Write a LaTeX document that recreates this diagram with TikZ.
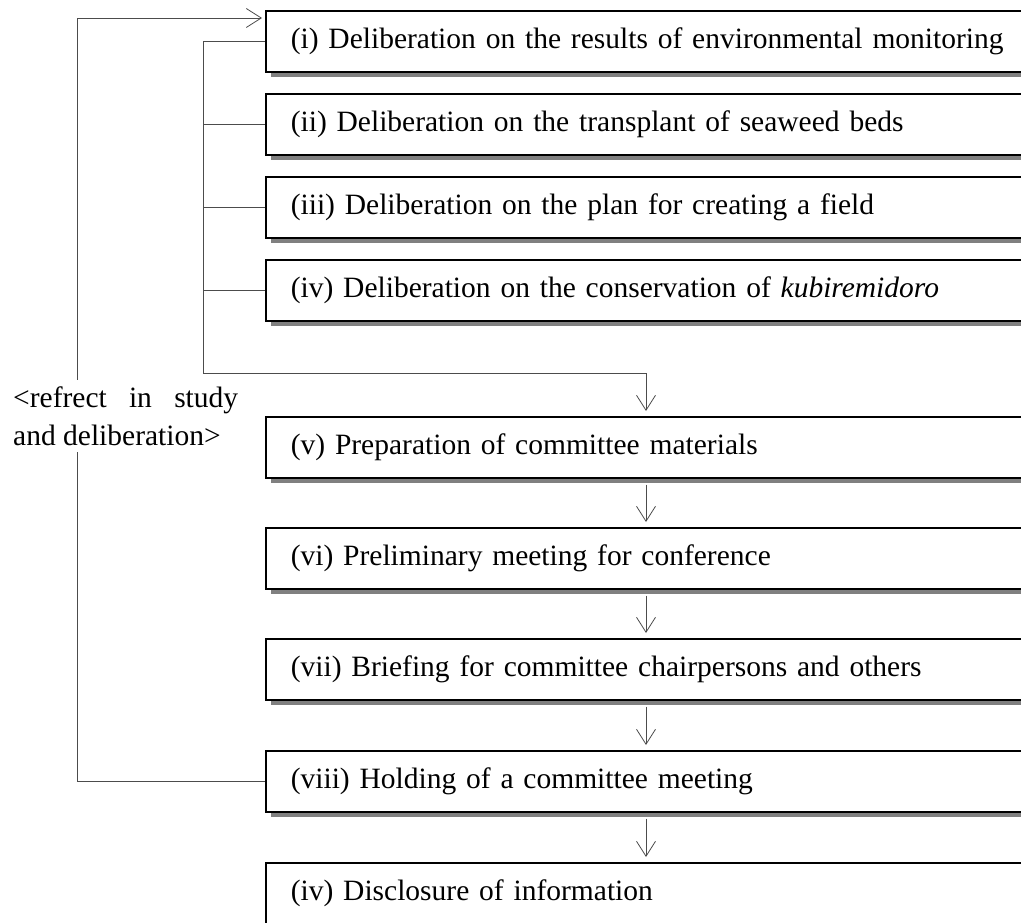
\documentclass[tikz,border=0pt]{standalone}
\usepackage{fontspec}
\setmainfont{Liberation Serif}
\usetikzlibrary{arrows.meta,shadows,calc}
\begin{document}
\begin{tikzpicture}[x=1pt,y=-1pt,
  box/.style={draw=black, line width=1.6pt, fill=white, anchor=north west,
    minimum height=61pt, text width=760pt, inner xsep=25pt, inner ysep=0pt,
    align=left, font=\fontsize{29.5}{36}\selectfont,
    drop shadow={shadow xshift=5pt, shadow yshift=-5pt, fill=black!50, opacity=1}},
  conn/.style={draw=black!70, line width=0.8pt},
  arr/.style={conn, -{Straight Barb[length=15pt,width=19pt,line width=0.8pt]}}]
\useasboundingbox (0,0) rectangle (1021,923);

\node[box] (i)   at (265,10)  {(i) Deliberation on the results of environmental monitoring};
\node[box] (ii)  at (265,93)  {(ii) Deliberation on the transplant of seaweed beds};
\node[box] (iii) at (265,176) {(iii) Deliberation on the plan for creating a field};
\node[box] (iv)  at (265,259) {(iv) Deliberation on the conservation of \textit{kubiremidoro}};
\node[box] (v)   at (265,416) {(v) Preparation of committee materials};
\node[box] (vi)  at (265,527) {(vi) Preliminary meeting for conference};
\node[box] (vii) at (265,638) {(vii) Briefing for committee chairpersons and others};
\node[box] (viii) at (265,750) {(viii) Holding of a committee meeting};
\node[box] (ix)  at (265,862) {(iv) Disclosure of information};

\coordinate (bb) at (203,373);
\coordinate (vin) at (646,411);
\coordinate (fb) at (77,18);

\draw[arr] (i.west) -| (bb) -| (vin);
\draw[conn] (ii.west) -- (ii.west -| bb);
\draw[conn] (iii.west) -- (iii.west -| bb);
\draw[conn] (iv.west) -- (iv.west -| bb);

\draw[arr] ($(v.south -| vin)+(0,6)$) -- ($(vi.north -| vin)+(0,-5)$);
\draw[arr] ($(vi.south -| vin)+(0,6)$) -- ($(vii.north -| vin)+(0,-5)$);
\draw[arr] ($(vii.south -| vin)+(0,6)$) -- ($(viii.north -| vin)+(0,-5)$);
\draw[arr] ($(viii.south -| vin)+(0,6)$) -- ($(ix.north -| vin)+(0,-5)$);

\draw[arr, shorten >=3pt] (viii.west) -| (fb) -- (fb -| i.west);

\node[fill=white, inner xsep=0pt, inner ysep=6pt, anchor=west, align=left,
  font=\fontsize{29.5}{38}\selectfont] (lbl) at (13,416)
  {\makebox[225pt][s]{\textless refrect in study}\\and deliberation\textgreater};
\end{tikzpicture}
\end{document}
